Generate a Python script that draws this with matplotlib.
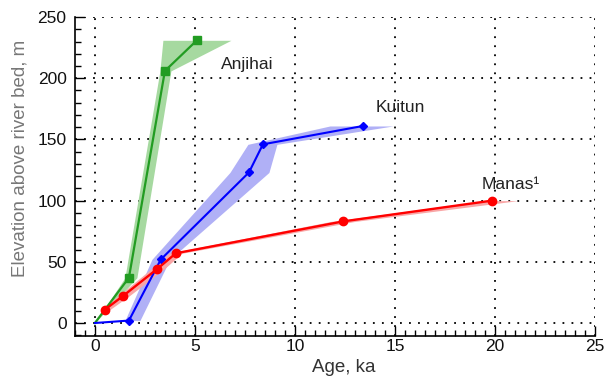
import matplotlib
matplotlib.use("Agg")
import matplotlib.pyplot as plt
from matplotlib.ticker import MultipleLocator

plt.rcParams['font.family'] = ['Liberation Sans', 'DejaVu Sans']

# Anjihai (green)
anj_age = [0.0, 1.7, 3.5, 5.1]
anj_elev = [0, 37, 206, 231]
anj_band_elev = [0, 37, 206, 231]
anj_band_lo = [0.0, 1.5, 3.25, 3.4]
anj_band_hi = [0.0, 2.1, 3.8, 6.8]

# Kuitun (blue)
kui_age = [0.0, 1.7, 3.3, 7.7, 8.4, 13.4]
kui_elev = [0, 2, 52, 123, 146, 161]
kui_band_elev = [2, 52, 123, 146, 161]
kui_band_lo = [1.5, 2.85, 6.75, 7.65, 11.75]
kui_band_hi = [2.25, 3.75, 8.7, 9.1, 14.9]

# Manas (red)
man_age = [0.5, 1.4, 3.1, 4.05, 12.4, 19.85]
man_elev = [11, 22, 44, 57, 83, 100]
man_band_lo = [0.3, 1.15, 2.8, 3.7, 11.8, 19.5]
man_band_hi = [0.75, 1.7, 3.45, 4.35, 13.0, 21.15]

fig = plt.figure(figsize=(6.04, 3.79), dpi=100)
ax = fig.add_axes([0.124, 0.1135, 0.861, 0.8415])

green = '#229c22'
blue = '#0000ff'
red = '#ff0000'

ax.fill_betweenx(anj_band_elev, anj_band_lo, anj_band_hi, color='#a6d9a0', lw=0, zorder=2)
ax.fill_betweenx(kui_band_elev, kui_band_lo, kui_band_hi, color='#b0b0f6', lw=0, zorder=2)
ax.fill_betweenx(man_elev, man_band_lo, man_band_hi, color='#f9a6a6', lw=0, zorder=2)

ax.plot(anj_age, anj_elev, color=green, lw=1.6, marker='s', ms=5.5,
        markevery=slice(1, None), zorder=4)
ax.plot(kui_age, kui_elev, color=blue, lw=1.5, marker='D', ms=4.5,
        markevery=slice(1, None), zorder=4)
ax.plot(man_age, man_elev, color=red, lw=1.7, marker='o', ms=6, zorder=5)

txt_kw = dict(fontsize=12.5, color='#222222', va='center', ha='left')
ax.text(6.3, 211, 'Anjihai', **txt_kw)
ax.text(14.05, 176, 'Kuitun', **txt_kw)
ax.text(19.35, 113, 'Manas¹', **txt_kw)

ax.set_xlim(-1, 25)
ax.set_ylim(-10.6, 250)
ax.xaxis.set_major_locator(MultipleLocator(5))
ax.xaxis.set_minor_locator(MultipleLocator(0.5))
ax.yaxis.set_major_locator(MultipleLocator(50))
ax.yaxis.set_minor_locator(MultipleLocator(10))
ax.tick_params(which='both', direction='in', width=1, color='black',
               labelsize=12.5, labelcolor='#111111')
ax.tick_params(which='major', length=7)
ax.tick_params(which='minor', length=4)
ax.tick_params(axis='x', pad=2)
ax.tick_params(axis='y', pad=6)
ax.spines['top'].set_visible(False)
ax.spines['right'].set_visible(False)
ax.spines['left'].set_linewidth(1.2)
ax.spines['bottom'].set_linewidth(1.2)

ax.grid(True, which='major', color='black', lw=1.3, linestyle=(0, (1, 4)), zorder=1)
ax.set_axisbelow(True)

ax.set_xlabel('Age, ka', fontsize=13.5, color='#333333')
ax.set_ylabel('Elevation above river bed, m', fontsize=13.5, color='#777777')
ax.xaxis.set_label_coords(0.517, -0.10)
ax.yaxis.set_label_coords(-0.106, 0.558)
ax.xaxis.label.set_va('center')
ax.yaxis.label.set_va('center')

fig.savefig('out.png', dpi=100)
